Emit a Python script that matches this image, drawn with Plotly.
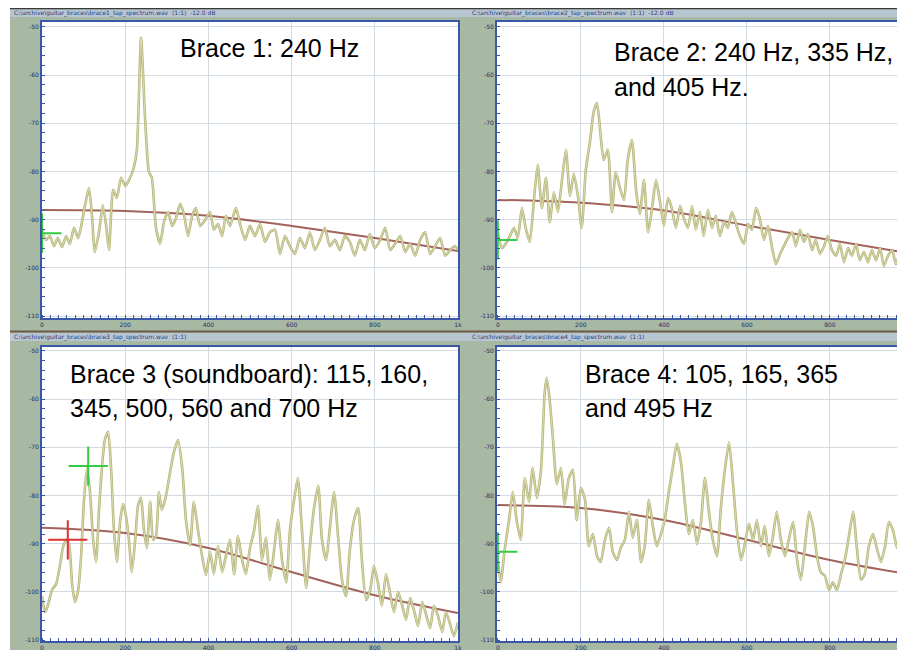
import plotly.graph_objects as go

# ---- data (Hz, dB) ----
b1_hz = [0, 10, 19, 29, 38, 48, 58, 67, 77, 87, 96, 106, 113, 120, 127, 137, 146, 154, 161, 171,
         180, 190, 200, 209, 219, 228, 238, 248, 257, 264, 274, 284, 293, 303, 313, 322, 332, 341, 351, 361,
         370, 380, 392, 404, 413, 423, 433, 442, 452, 466, 476, 488, 500, 512, 524, 536, 548, 560, 572, 584,
         596, 608, 620, 632, 644, 656, 668, 680, 692, 704, 716, 728, 740, 752, 764, 776, 788, 800, 813, 825,
         837, 849, 861, 873, 885, 897, 909, 921, 933, 945, 957, 969, 981, 993, 1000]
b1_db = [-92.1, -94.2, -93.4, -95.5, -93.8, -95.7, -93.4, -95.0, -91.7, -93.8,
         -90.5, -85.9, -83.4, -89.0, -96.7, -92.6, -87.0, -91.1, -96.3, -83.8,
         -85.5, -81.3, -83.0, -81.8, -79.7, -75.5, -52.3, -69.3, -80.1, -81.3,
         -91.7, -95.0, -90.5, -88.4, -91.3, -89.7, -86.7, -88.8, -93.4, -89.2,
         -87.6, -91.3, -90.1, -88.4, -92.1, -90.9, -93.4, -89.2, -91.3, -87.6,
         -90.9, -94.2, -91.3, -93.4, -90.9, -94.6, -92.6, -92.1, -97.1, -93.4,
         -95.5, -97.1, -93.8, -95.9, -92.6, -96.3, -94.2, -91.7, -95.5, -94.2,
         -96.3, -93.4, -94.6, -97.5, -94.2, -96.3, -93.0, -95.9, -94.2, -91.7,
         -96.3, -95.0, -93.4, -96.7, -95.0, -97.5, -94.2, -92.6, -97.1, -95.5,
         -93.8, -97.5, -96.3, -95.5, -96.3]

b2_hz = [0, 10, 19, 29, 39, 48, 58, 67, 77, 87, 96, 106, 116, 125, 135, 145, 154, 164, 174, 183,
         193, 202, 212, 222, 231, 239, 246, 255, 265, 275, 284, 294, 304, 313, 323, 333, 342, 352, 362, 371,
         381, 390, 400, 410, 419, 429, 439, 448, 458, 468, 477, 487, 496, 506, 516, 525, 535, 545, 554, 564,
         574, 583, 593, 603, 612, 622, 631, 641, 651, 660, 670, 680, 689, 699, 709, 718, 728, 737, 747, 757,
         766, 776, 786, 795, 805, 815, 824, 834, 844, 853, 863, 872, 882, 892, 901, 911, 921, 930, 940, 950,
         959, 969, 981]
b2_db = [-92.6, -95.9, -95.0, -93.4, -91.7, -93.8, -87.6, -91.7, -94.6, -85.9,
         -78.6, -87.6, -81.3, -90.5, -84.3, -88.4, -82.2, -75.5, -85.1, -80.5,
         -85.1, -91.7, -79.7, -73.9, -67.6, -65.8, -71.0, -77.6, -75.5, -88.4,
         -80.1, -83.4, -85.9, -77.6, -73.5, -83.8, -88.8, -81.8, -92.6, -88.0,
         -81.8, -85.9, -91.3, -85.5, -87.6, -91.7, -87.2, -89.7, -91.7, -87.2,
         -92.1, -88.4, -93.4, -88.0, -91.7, -89.2, -93.4, -90.5, -91.7, -88.4,
         -90.9, -93.4, -95.0, -90.9, -92.1, -87.6, -89.7, -94.2, -91.3, -95.5,
         -99.2, -97.1, -95.5, -93.8, -92.6, -95.5, -92.1, -94.6, -93.0, -96.3,
         -94.2, -97.1, -95.5, -93.4, -96.3, -97.5, -95.0, -98.8, -95.9, -97.5,
         -95.0, -98.4, -96.7, -98.8, -96.3, -98.4, -95.9, -99.6, -97.5, -96.3,
         -99.2, -97.1, -98.0]

b3_hz = [0, 7, 14, 24, 34, 43, 50, 58, 65, 72, 79, 87, 94, 101, 108, 115, 123, 130, 137, 144,
         151, 159, 166, 173, 180, 188, 195, 202, 209, 216, 224, 231, 238, 245, 252, 260, 267, 274, 281, 288,
         298, 308, 317, 327, 337, 346, 356, 365, 375, 385, 394, 404, 413, 423, 433, 442, 452, 462, 471, 481,
         490, 500, 510, 519, 529, 538, 548, 558, 567, 577, 587, 596, 606, 615, 625, 635, 644, 654, 664, 673,
         683, 692, 702, 712, 721, 731, 740, 750, 760, 769, 779, 789, 798, 808, 817, 827, 837, 846, 856, 865,
         875, 885, 894, 904, 914, 923, 933, 942, 952, 962, 971, 981, 990, 1000]
b3_db = [-100.9, -104.2, -102.9, -99.6, -98.4, -94.6, -90.9, -89.2, -90.1, -98.0,
         -102.1, -99.6, -92.6, -80.9, -74.3, -78.9, -89.2, -93.8, -83.0, -74.3,
         -68.5, -66.8, -74.3, -87.2, -93.8, -85.1, -81.8, -84.3, -89.2, -95.9,
         -89.2, -82.0, -80.5, -87.2, -90.9, -81.3, -89.2, -88.4, -79.3, -83.0,
         -80.1, -75.1, -71.0, -68.5, -74.3, -85.1, -90.3, -81.3, -87.2, -92.6,
         -96.5, -91.7, -96.3, -90.5, -95.9, -92.6, -89.2, -96.3, -88.4, -93.4,
         -96.3, -90.9, -87.2, -82.2, -93.4, -88.8, -97.5, -91.3, -85.1, -93.4,
         -98.0, -87.2, -80.9, -76.4, -87.2, -99.2, -90.5, -82.6, -78.0, -89.2,
         -93.4, -86.7, -79.3, -88.8, -97.5, -100.9, -91.3, -85.1, -82.6, -93.4,
         -101.7, -99.6, -94.6, -98.4, -102.9, -96.3, -100.4, -104.2, -100.0, -102.5,
         -105.8, -101.3, -103.8, -107.1, -102.1, -104.6, -107.5, -102.9, -105.0, -108.3,
         -104.2, -106.7, -109.2, -106.3]

b4_hz = [0, 7, 17, 27, 36, 46, 55, 65, 75, 84, 94, 104, 113, 118, 125, 133, 142, 152, 161, 171,
         181, 190, 200, 210, 219, 229, 239, 248, 258, 268, 277, 287, 296, 306, 316, 325, 335, 345, 354, 364,
         374, 383, 393, 402, 412, 422, 431, 441, 451, 460, 470, 480, 489, 499, 508, 518, 528, 537, 547, 557,
         566, 576, 586, 595, 605, 615, 624, 634, 643, 653, 663, 672, 682, 692, 701, 711, 721, 730, 740, 750,
         759, 769, 778, 788, 798, 807, 817, 827, 836, 846, 856, 865, 875, 884, 894, 904, 913, 923, 933, 942,
         952, 962, 971, 983]
b4_db = [-93.4, -98.0, -90.9, -85.1, -79.3, -85.5, -89.2, -76.4, -81.3, -74.3,
         -80.5, -74.7, -58.5, -55.6, -60.2, -68.5, -77.6, -74.3, -81.8, -76.4,
         -74.7, -85.1, -78.4, -80.9, -90.5, -88.0, -92.6, -93.8, -89.2, -86.7,
         -91.7, -93.4, -90.9, -89.2, -83.4, -88.8, -85.1, -93.8, -90.5, -80.9,
         -86.7, -90.5, -88.0, -85.1, -79.3, -73.9, -69.3, -73.0, -81.8, -88.0,
         -85.1, -90.1, -85.9, -76.4, -83.0, -89.2, -92.6, -83.0, -74.7, -68.9,
         -76.8, -87.2, -93.4, -90.1, -85.9, -89.2, -85.1, -90.5, -86.3, -92.6,
         -88.4, -83.4, -89.2, -92.6, -89.2, -85.5, -93.4, -97.5, -90.5, -83.4,
         -86.3, -92.6, -95.9, -96.7, -99.6, -98.0, -99.6, -96.3, -93.4, -88.4,
         -83.4, -90.9, -97.5, -96.3, -90.5, -88.0, -90.9, -93.8, -90.5, -85.5,
         -87.2, -90.9, -88.8, -92.6]

# smoothed reference curves
smooth_hz = [0, 200, 400, 600, 800, 1000]
b1_smooth = [-88.0, -88.2, -89.2, -91.3, -93.8, -96.5]
b2_smooth = [-85.9, -86.5, -88.1, -91.2, -94.2, -97.1]
b3_smooth = [-86.7, -87.8, -90.9, -95.9, -100.7, -104.4]
b4_smooth = [-82.0, -82.6, -85.1, -89.2, -93.4, -96.5]

# cursor crosses (Hz, dB)
b1_cursor = (0, -92.8)
b2_cursor = (0, -94.2)
b3_cursor = (111, -73.9)
b3_cursor_red = (62, -89.2)
b4_cursor = (0, -91.7)

x_ticks = [0, 200, 400, 600, 800, 1000]
x_labels = ["0", "200", "400", "600", "800", "1k"]
y_ticks = [-50, -60, -70, -80, -90, -100, -110]
y_labels = ["-50", "-60", "-70", "-80", "-90", "-100", "-110"]

# the page body keeps an 8px margin, so the figure covers the window from (8, 8)
OFF = 8
W, H = 905 - OFF, 650 - OFF
BG = "#a7b8a3"
BAR = "#b8c6d2"
AXIS = "#3b58a8"
TICKTXT = "#1f2f70"
GRID = "#d4dae2"
SPEC_DARK = "#b4b57c"
SPEC_LIGHT = "#e6e4bc"
SMOOTH = "#a3625c"
CURSOR = "#33cc44"


def px(x):
    # window pixel -> paper x
    return (x - OFF) / W


def py(y):
    # window pixel -> paper y
    return 1 - (y - OFF) / H


fig = go.Figure()

panels = [
    dict(hz=b1_hz, db=b1_db, sm=b1_smooth, cur=[b1_cursor], red=[],
         xd=[px(42), px(458)], yd=[py(318), py(22)], xr=[0, 1000], yr=[-110.4, -49.0]),
    dict(hz=b2_hz, db=b2_db, sm=b2_smooth, cur=[b2_cursor], red=[],
         xd=[px(497), 1.0], yd=[py(318), py(22)], xr=[-2, 981], yr=[-110.4, -49.0]),
    dict(hz=b3_hz, db=b3_db, sm=b3_smooth, cur=[b3_cursor], red=[b3_cursor_red],
         xd=[px(42), px(458)], yd=[py(641), py(347)], xr=[0, 1000], yr=[-110.2, -49.2]),
    dict(hz=b4_hz, db=b4_db, sm=b4_smooth, cur=[b4_cursor], red=[],
         xd=[px(497), 1.0], yd=[py(641), py(347)], xr=[-2, 981], yr=[-110.2, -49.2]),
]

layout_axes = {}
for i, p in enumerate(panels, start=1):
    xa = "x" if i == 1 else f"x{i}"
    ya = "y" if i == 1 else f"y{i}"

    # smooth trend curve
    fig.add_trace(go.Scatter(x=smooth_hz, y=p["sm"], mode="lines", xaxis=xa, yaxis=ya,
                             line=dict(color=SMOOTH, width=2, shape="spline"), hoverinfo="skip"))
    # spectrum: olive outline + pale core
    fig.add_trace(go.Scatter(x=p["hz"], y=p["db"], mode="lines", xaxis=xa, yaxis=ya,
                             line=dict(color=SPEC_DARK, width=2.6, shape="spline", smoothing=0.6)))
    fig.add_trace(go.Scatter(x=p["hz"], y=p["db"], mode="lines", xaxis=xa, yaxis=ya,
                             line=dict(color=SPEC_LIGHT, width=0.8, shape="spline", smoothing=0.6)))
    # cursors
    for (cx, cy) in p["cur"]:
        fig.add_trace(go.Scatter(x=[cx], y=[cy], mode="markers", xaxis=xa, yaxis=ya,
                                 marker=dict(symbol="cross-thin", size=28,
                                             line=dict(color=CURSOR, width=2))))
    for (cx, cy) in p["red"]:
        fig.add_trace(go.Scatter(x=[cx], y=[cy], mode="markers", xaxis=xa, yaxis=ya,
                                 marker=dict(symbol="cross-thin", size=28,
                                             line=dict(color="#e03030", width=2))))

    key = "" if i == 1 else str(i)
    layout_axes["xaxis" + key] = dict(
        domain=p["xd"], range=p["xr"], anchor=ya, tickvals=x_ticks, ticktext=x_labels,
        automargin=False,
        showgrid=True, gridcolor=GRID, gridwidth=1, zeroline=False,
        showline=True, linecolor=AXIS, linewidth=2, mirror=True, ticks="",
        tickfont=dict(size=6, color=TICKTXT, family="DejaVu Sans"),
        minor=dict(ticks="inside", ticklen=3, tickcolor=AXIS, dtick=20, showgrid=False),
    )
    layout_axes["yaxis" + key] = dict(
        domain=p["yd"], range=p["yr"], anchor=xa, tickvals=y_ticks, ticktext=y_labels,
        automargin=False,
        showgrid=True, gridcolor=GRID, gridwidth=1, zeroline=False,
        showline=True, linecolor=AXIS, linewidth=2, mirror=True, ticks="",
        tickfont=dict(size=6, color=TICKTXT, family="DejaVu Sans"),
        minor=dict(ticks="inside", ticklen=3, tickcolor=AXIS, dtick=2, showgrid=False),
    )

shapes = [
    # white strip on the left of the screenshot
    dict(type="rect", xref="paper", yref="paper", x0=0, x1=px(10), y0=0, y1=1,
         fillcolor="white", line_width=0),
    dict(type="rect", xref="paper", yref="paper", x0=px(10), x1=1, y0=py(9.5), y1=1,
         fillcolor="#3a3a3a", line_width=0),
    # window title bars
    dict(type="rect", xref="paper", yref="paper", x0=px(10), x1=1, y0=py(17), y1=py(9.5),
         fillcolor=BAR, line_width=0),
    dict(type="line", xref="paper", yref="paper", x0=px(10), x1=1, y0=py(331.5), y1=py(331.5),
         line=dict(color="#6e5a48", width=2)),
    dict(type="rect", xref="paper", yref="paper", x0=px(10), x1=1, y0=py(341), y1=py(333),
         fillcolor=BAR, line_width=0),
]

bar_font = dict(family="DejaVu Sans", size=6, color="#2a3c86")
bar_texts = [
    (12, 13, "C:\\archive\\guitar_braces\\brace1_tap_spectrum.wav  (1:1)  -12.0 dB"),
    (470, 13, "C:\\archive\\guitar_braces\\brace2_tap_spectrum.wav  (1:1)  -12.0 dB"),
    (12, 337, "C:\\archive\\guitar_braces\\brace3_tap_spectrum.wav  (1:1)"),
    (470, 337, "C:\\archive\\guitar_braces\\brace4_tap_spectrum.wav  (1:1)"),
]
annotations = [dict(x=px(x), y=py(y), xref="paper", yref="paper", text=t, showarrow=False,
                    xanchor="left", yanchor="middle", font=bar_font) for x, y, t in bar_texts]

label_font = dict(family="Liberation Sans, Arial, sans-serif", size=25, color="black")
labels = [
    (178, 48, "Brace 1: 240 Hz"),
    (612, 52, "Brace 2: 240 Hz, 335 Hz,"),
    (612, 87, "and 405 Hz."),
    (68, 374, "Brace 3 (soundboard): 115, 160,"),
    (68, 408, "345, 500, 560 and 700 Hz"),
    (583, 374, "Brace 4: 105, 165, 365"),
    (583, 408, "and 495 Hz"),
]
for x, y, t in labels:
    annotations.append(dict(x=px(x), y=py(y), xref="paper", yref="paper", text=t,
                            showarrow=False, xanchor="left", yanchor="middle", font=label_font))

fig.update_layout(
    width=W, height=H,
    margin=dict(l=0, r=0, t=0, b=0),
    paper_bgcolor=BG, plot_bgcolor="white",
    showlegend=False,
    shapes=shapes,
    annotations=annotations,
    **layout_axes,
)

fig.write_html("out.html")
